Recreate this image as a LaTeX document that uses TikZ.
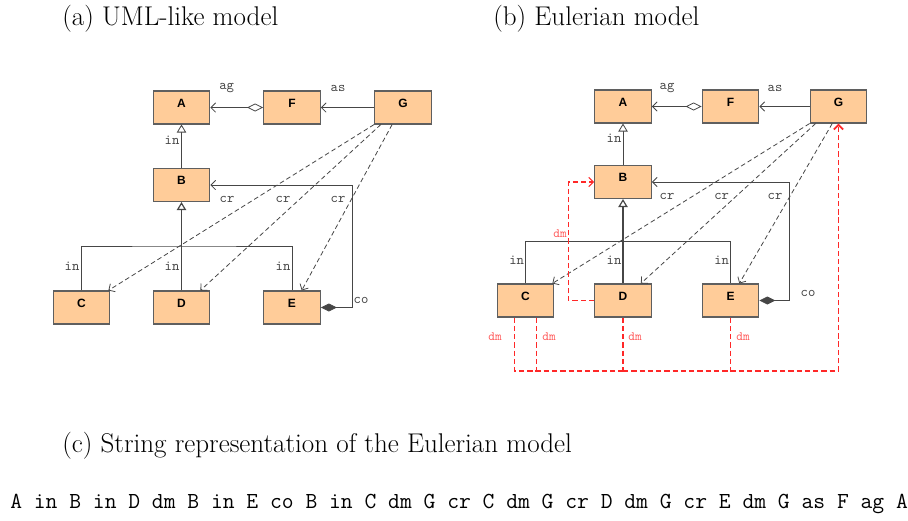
\documentclass[tikz,border=0pt]{standalone}
\usepackage{fontspec}
\newfontfamily\boxfont{Liberation Sans}
\usetikzlibrary{arrows.meta,calc}
\definecolor{peach}{RGB}{255,204,153}
\definecolor{boxgray}{RGB}{95,95,95}
\definecolor{linegray}{RGB}{70,70,70}
\definecolor{dmred}{RGB}{255,40,40}
\definecolor{dmlbl}{RGB}{255,90,90}
\tikzset{
  cls/.style={draw=boxgray, fill=peach, line width=0.8pt, minimum width=42.5pt, minimum height=24.75pt, inner sep=0pt,
    text height=6.5pt, text depth=7pt, font=\boxfont\bfseries\fontsize{9}{10}\selectfont},
  barb/.style={-{Straight Barb[length=3.5pt,width=7pt]}},
  plain/.style={draw=linegray, line width=0.6pt},
  assoc/.style={plain, barb},
  inh/.style={plain, -{Triangle[open,length=6pt,width=7pt,fill=white]}},
  dep/.style={plain, dash pattern=on 3.5pt off 2.2pt, barb},
  dmline/.style={draw=dmred, line width=0.8pt, dash pattern=on 4pt off 2.2pt},
  dmthick/.style={dmline, line width=1.4pt},
  lbl/.style={font=\ttfamily\fontsize{10.5}{12}\selectfont, text=linegray, inner sep=0pt},
  dmlab/.style={font=\ttfamily\fontsize{9.5}{11}\selectfont, text=dmlbl, inner sep=0pt},
  title/.style={font=\fontsize{20.3}{24}\selectfont, anchor=base west, inner sep=0pt},
}
\begin{document}
\begin{tikzpicture}[x=0.75pt,y=-0.75pt]
\useasboundingbox (0,0) rectangle (908,521);

% ---------- titles ----------
\node[title] (ta) at (62,26) {(a) UML-like model};
\node[title] (tb) at (493,26) {(b) Eulerian model};
\node[title] (tc) at (62,452) {(c) String representation of the Eulerian model};
\node[anchor=base west, inner sep=0pt, font=\ttfamily\fontsize{17.2}{18}\selectfont] (str) at (10,508)
  {A in B in D dm B in E co B in C dm G cr C dm G cr D dm G cr E dm G as F ag A};

% ---------- (a) ----------
\node[cls] (lA) at (181.5,107.5) {A};
\node[cls] (lF) at (292,107.5) {F};
\node[cls] (lG) at (403,107.5) {G};
\node[cls] (lB) at (181.5,185) {B};
\node[cls] (lC) at (81.5,307.5) {C};
\node[cls] (lD) at (181.5,307.5) {D};
\node[cls] (lE) at (292,307.5) {E};

\draw[assoc, {Diamond[open,length=12pt,width=6pt,fill=white]}-{Straight Barb[length=3.5pt,width=7pt]}] (lF.west) -- (lA.east);
\draw[assoc] (lG.west) -- (lF.east);
\draw[inh] (lB.north) -- (lA.south);
\draw[inh, line width=0.9pt] (lD.north) -- (lB.south);
\coordinate (lJ) at (181.5,246);
\draw[plain] (lC.north) |- (lJ) -| (lE.north);
\coordinate (lK) at (352.7,185);
\draw[plain, {Diamond[length=12pt,width=6pt,fill=linegray]}-{Straight Barb[length=3.5pt,width=7pt]}] (lE.east) -| (lK) -- (lB.east);
\draw[dep] (lG.south west) -- ($(lC.north east)+(-2,0)$);
\draw[dep] ($(lG.south west)+(6.7,0)$) -- ($(lD.north east)+(-10,0)$);
\draw[dep] ($(lG.south west)+(18,0)$) -- ($(lE.north)+(9.7,0)$);

\node[lbl] (la1) at (226.7,88) {ag};
\node[lbl] (la2) at (338,88) {as};
\node[lbl] (la3) at (172,140) {in};
\node[lbl] (la4) at (227,199) {cr};
\node[lbl] (la5) at (283,199) {cr};
\node[lbl] (la6) at (338,199) {cr};
\node[lbl] (la7) at (72,266) {in};
\node[lbl] (la8) at (172,266) {in};
\node[lbl] (la9) at (283,266) {in};
\node[lbl] (la10) at (361,300) {co};

% ---------- (b) ----------
\node[cls] (rA) at (623,106.5) {A};
\node[cls] (rF) at (730.5,106.5) {F};
\node[cls] (rG) at (838.5,106.5) {G};
\node[cls] (rB) at (623,182) {B};
\node[cls] (rC) at (525.5,300.5) {C};
\node[cls] (rD) at (623,300.5) {D};
\node[cls] (rE) at (730.5,300.5) {E};

\draw[assoc, {Diamond[open,length=12pt,width=6pt,fill=white]}-{Straight Barb[length=3.5pt,width=7pt]}] (rF.west) -- (rA.east);
\draw[assoc] (rG.west) -- (rF.east);
\draw[inh] (rB.north) -- (rA.south);
\draw[inh, line width=0.9pt] (rD.north) -- (rB.south);
\coordinate (rJ) at (623,241.7);
\draw[plain] (rC.north) |- (rJ) -| (rE.north);
\coordinate (rK) at (789.3,182);
\draw[plain, {Diamond[length=12pt,width=6pt,fill=linegray]}-{Straight Barb[length=3.5pt,width=7pt]}] (rE.east) -| (rK) -- (rB.east);
\draw[dep] (rG.south west) -- ($(rC.north east)+(-2,0)$);
\draw[dep] ($(rG.south west)+(6,0)$) -- ($(rD.north east)+(-11,0)$);
\draw[dep] ($(rG.south west)+(22.6,0)$) -- ($(rE.north)+(8.8,0)$);

% dm connectors
\coordinate (rM) at (568.3,182);
\draw[dmline, -{Straight Barb[length=3.5pt,width=7pt]}] (rD.west) -| (rM) -- (rB.west);
\coordinate (rQ) at (623,371);
\coordinate (rY) at (838.5,371);
\coordinate (rC1) at ($(rC.south)+(-11,0)$);
\coordinate (rC2) at ($(rC.south)+(11,0)$);
\draw[dmline] (rC1) -- (rC1 |- rQ) -- (rQ);
\draw[dmline] (rC2) -- (rC2 |- rQ);
\draw[dmline] (rD.south) -- (rQ);
\draw[dmline] (rE.south) -- (rE.south |- rQ);
\draw[dmthick, -{Straight Barb[length=3.5pt,width=7pt]}] (rQ) -- (rY) -- (rG.south);

\node[lbl] (ra1) at (667,88) {ag};
\node[lbl] (ra2) at (775,88) {as};
\node[lbl] (ra3) at (614,138) {in};
\node[lbl] (ra4) at (667,196) {cr};
\node[lbl] (ra5) at (721.7,196) {cr};
\node[lbl] (ra6) at (775,196) {cr};
\node[lbl] (ra7) at (516.7,260) {in};
\node[lbl] (ra8) at (614,260) {in};
\node[lbl] (ra9) at (721.7,260) {in};
\node[lbl] (ra10) at (808,293) {co};
\node[dmlab] (rd1) at (560,234) {dm};
\node[dmlab] (rd2) at (495,336.7) {dm};
\node[dmlab] (rd3) at (549,336.7) {dm};
\node[dmlab] (rd4) at (635,336.7) {dm};
\node[dmlab] (rd5) at (743,336.7) {dm};
\end{tikzpicture}
\end{document}
